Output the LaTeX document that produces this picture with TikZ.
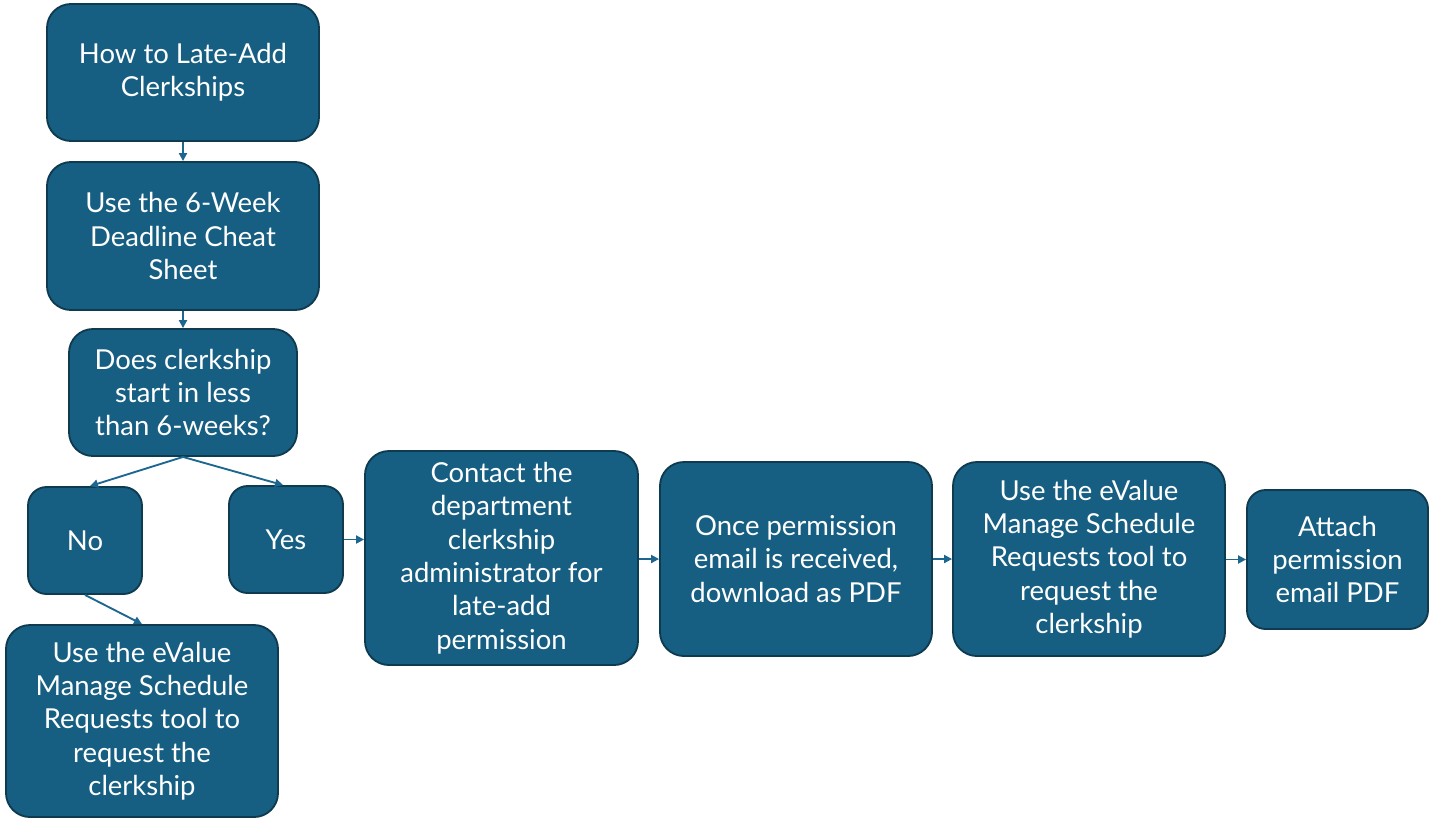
\documentclass[tikz,border=0pt]{standalone}
\usepackage{fontspec}
\setmainfont{Lato}
\usetikzlibrary{arrows.meta}
\definecolor{boxfill}{HTML}{175F82}
\definecolor{boxedge}{HTML}{0F3B50}
\definecolor{arrowc}{HTML}{1D6690}
\tikzset{
  flowbox/.style={draw=boxedge, line width=1.4pt, fill=boxfill, rounded corners=18pt,
    text=white, align=center, inner sep=0pt,
    font=\fontsize{20.6pt}{25pt}\selectfont},
  smallbox/.style={flowbox, rounded corners=14pt},
  conn/.style={draw=arrowc, line width=1.4pt, -{Triangle[length=6pt,width=6pt]}}
}
\begin{document}
\begin{tikzpicture}[x=0.75pt,y=-0.75pt]
\useasboundingbox (0,0) rectangle (1434,819);
\node[flowbox, minimum width=204pt, minimum height=102.75pt] (start) at (183,72.5) {How to Late-Add\\Clerkships};
\node[flowbox, minimum width=204pt, minimum height=111pt] (cheat) at (183,236) {Use the 6-Week\\Deadline Cheat\\Sheet};
\node[flowbox, minimum width=171pt, minimum height=95.25pt] (q) at (183,392.5) {Does clerkship\\start in less\\than 6-weeks?};
\node[smallbox, minimum width=85.5pt, minimum height=80.25pt] (no) at (85,540.5) {No};
\node[smallbox, minimum width=85.5pt, minimum height=80.25pt] (yes) at (286,539.5) {Yes};
\node[flowbox, minimum width=204pt, minimum height=144pt] (evl) at (142,721) {Use the eValue\\Manage Schedule\\Requests tool to\\request the\\clerkship};
\node[flowbox, minimum width=204.75pt, minimum height=160.5pt] (contact) at (501.5,558) {Contact the\\department\\clerkship\\administrator for\\late-add\\permission};
\node[flowbox, minimum width=204pt, minimum height=145.5pt] (once) at (796,559) {Once permission\\email is received,\\download as PDF};
\node[flowbox, minimum width=204pt, minimum height=145.5pt] (evr) at (1089,559) {Use the eValue\\Manage Schedule\\Requests tool to\\request the\\clerkship};
\node[smallbox, minimum width=135.75pt, minimum height=104.25pt] (attach) at (1337.5,559.5) {Attach\\permission\\email PDF};
\draw[conn] (start.south) -- (cheat.north);
\draw[conn] (cheat.south) -- (q.north);
\draw[conn] (q.south) -- ([xshift=3.75pt]no.north);
\draw[conn] (q.south) -- ([xshift=-2.25pt]yes.north);
\draw[conn] (no.south) -- (evl.north);
\draw[conn] (yes.east) -- (contact.west |- yes.east);
\draw[conn] (contact.east |- once.west) -- (once.west);
\draw[conn] (once.east) -- (evr.west);
\draw[conn] (evr.east |- attach.west) -- (attach.west);
\end{tikzpicture}
\end{document}
